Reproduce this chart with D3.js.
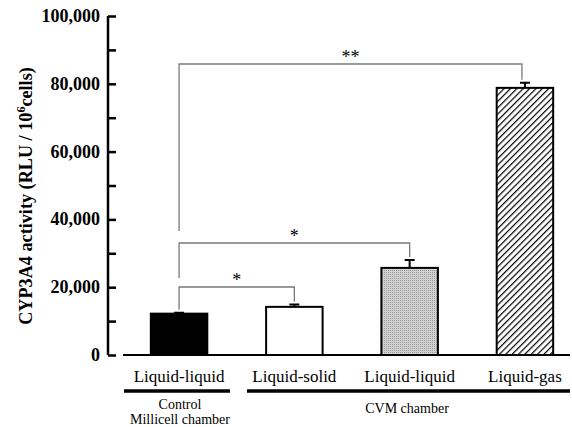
<!DOCTYPE html>
<html>
<head>
<meta charset="utf-8">
<script src="https://cdn.jsdelivr.net/npm/d3@7"></script>
<style>
  body { margin: 0; background: #fff; }
  svg { display: block; }
  svg text { font-family: "Liberation Serif", "Times New Roman", Times, serif; }
</style>
</head>
<body>
<svg id="chart"></svg>
<script>
const width = 572, height = 427;

// data
const categories = ["Liquid-liquid", "Liquid-solid", "Liquid-liquid", "Liquid-gas"];
const values = [12200, 14200, 25700, 78800];
const errors = [300, 700, 2300, 1500];
const fills = ["black", "white", "url(#dots)", "url(#hatch)"];
const yTicks = [0, 20000, 40000, 60000, 80000, 100000];
const groups = [
  {lines: ["Control", "Millicell chamber"], from: 0, to: 0},
  {lines: ["CVM chamber"], from: 1, to: 3}
];
const comparisons = [
  {a: 0, b: 1, label: "*"},
  {a: 0, b: 2, label: "*"},
  {a: 0, b: 3, label: "**"}
];

const svg = d3.select("#chart").attr("width", width).attr("height", height);

const defs = svg.append("defs");
const hatch = defs.append("pattern")
  .attr("id", "hatch")
  .attr("patternUnits", "userSpaceOnUse")
  .attr("width", 4.5).attr("height", 4.5)
  .attr("patternTransform", "rotate(45)");
hatch.append("rect").attr("width", 4.5).attr("height", 4.5).attr("fill", "white");
hatch.append("line").attr("x1", 0).attr("y1", 0).attr("x2", 0).attr("y2", 4.5)
  .attr("stroke", "black").attr("stroke-width", 2.4);

const dots = defs.append("pattern")
  .attr("id", "dots")
  .attr("patternUnits", "userSpaceOnUse")
  .attr("width", 2).attr("height", 2);
dots.append("rect").attr("width", 2).attr("height", 2).attr("fill", "#d2d2d2");
dots.append("rect").attr("width", 1).attr("height", 1).attr("fill", "#999");

const y = d3.scaleLinear().domain([0, 100000]).range([355, 16]);
const x = d3.scaleBand().domain(d3.range(categories.length))
  .range([122, 582]).paddingInner(0.51).paddingOuter(0.25);

// y axis
const yAxis = d3.axisRight(y)
  .tickValues(d3.range(0, 100001, 10000))
  .tickSize(8)
  .tickFormat("");
const ya = svg.append("g").attr("transform", "translate(108,0)").call(yAxis);
ya.select(".domain").attr("d", "M0,16V355").attr("stroke-width", 2.5);
ya.selectAll(".tick line").attr("stroke-width", 2.5);

svg.selectAll(".ylab")
  .data(yTicks)
  .join("text")
  .attr("class", "ylab")
  .attr("x", 100)
  .attr("y", d => y(d) + 6)
  .attr("text-anchor", "end")
  .attr("font-weight", "bold")
  .attr("font-size", 18)
  .text(d => d3.format(",")(d));

// axis title
const title = svg.append("text")
  .attr("transform", "translate(32,196) rotate(-90)")
  .attr("text-anchor", "middle")
  .attr("font-weight", "bold")
  .attr("font-size", 18.2);
title.append("tspan").text("CYP3A4 activity (RLU / 10");
title.append("tspan").attr("dy", -7).attr("font-size", 12).text("6");
title.append("tspan").attr("dy", 7).text("cells)");

// significance brackets
const bracketTop = [287, 243, 64];
comparisons.forEach((c, i) => {
  const xa = x(c.a) + x.bandwidth() / 2;
  const xb = x(c.b) + x.bandwidth() / 2 - (c.b === 3 ? 3 : 0);
  const ya0 = i === 0 ? y(values[c.a] + errors[c.a]) - 3 : (i === 1 ? 278 : 231);
  const yb0 = y(values[c.b] + errors[c.b]) - 3;
  const yt = bracketTop[i];
  svg.append("path")
    .attr("d", `M${xa},${ya0}V${yt}H${xb}V${yb0}`)
    .attr("fill", "none")
    .attr("stroke", "#7a7a7a")
    .attr("stroke-width", 1.3);
  svg.append("text")
    .attr("x", (xa + xb) / 2)
    .attr("y", yt - 1)
    .attr("text-anchor", "middle")
    .attr("font-size", 18)
    .text(c.label);
});

// error bars
svg.selectAll(".err")
  .data(values)
  .join("path")
  .attr("class", "err")
  .attr("d", (d, i) => {
    const cx = x(i) + x.bandwidth() / 2;
    return `M${cx},${y(d)}V${y(d + errors[i])}M${cx - 5},${y(d + errors[i])}H${cx + 5}`;
  })
  .attr("stroke", "black")
  .attr("stroke-width", 2)
  .attr("fill", "none");

// bars
svg.selectAll(".bar")
  .data(values)
  .join("rect")
  .attr("class", "bar")
  .attr("x", (d, i) => x(i))
  .attr("y", d => y(d))
  .attr("width", x.bandwidth())
  .attr("height", d => y(0) - y(d))
  .attr("fill", (d, i) => fills[i])
  .attr("stroke", "black")
  .attr("stroke-width", 2);

// baseline
svg.append("line")
  .attr("x1", 123).attr("x2", 570)
  .attr("y1", y(0)).attr("y2", y(0))
  .attr("stroke", "black").attr("stroke-width", 2);

// category labels
svg.selectAll(".xlab")
  .data(categories)
  .join("text")
  .attr("class", "xlab")
  .attr("x", (d, i) => x(i) + x.bandwidth() / 2)
  .attr("y", 382)
  .attr("text-anchor", "middle")
  .attr("font-size", 17)
  .text(d => d);

// group bars and labels
const groupX = [[124, 230], [247, 570]];
groups.forEach((g, i) => {
  svg.append("line")
    .attr("x1", groupX[i][0]).attr("x2", groupX[i][1])
    .attr("y1", 391).attr("y2", 391)
    .attr("stroke", "black").attr("stroke-width", 3.5);
  const cx = i === 0 ? (groupX[i][0] + groupX[i][1]) / 2 + 3 : 407;
  g.lines.forEach((t, j) => {
    svg.append("text")
      .attr("x", cx)
      .attr("y", (i === 0 ? 409 : 413) + j * 15)
      .attr("text-anchor", "middle")
      .attr("font-size", 14)
      .text(t);
  });
});
</script>
</body>
</html>
